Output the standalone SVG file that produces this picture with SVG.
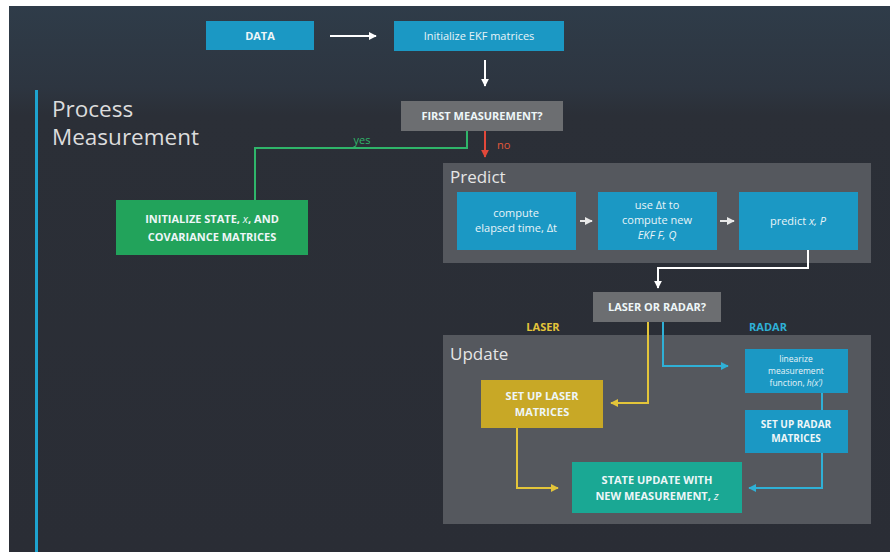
<svg xmlns="http://www.w3.org/2000/svg" width="890" height="552" viewBox="0 0 890 552">
<defs>
<linearGradient id="bg" x1="0" y1="0" x2="0" y2="1">
<stop offset="0" stop-color="#2f3c49"/>
<stop offset="0.15" stop-color="#2d3540"/>
<stop offset="0.2" stop-color="#2b2f37"/>
<stop offset="1" stop-color="#2a2d35"/>
</linearGradient>
<marker id="aw" viewBox="0 0 10 10" refX="9" refY="5" markerWidth="4" markerHeight="4" orient="auto"><path d="M0,0 L10,5 L0,10 z" fill="#ffffff"/></marker>
<marker id="ar" viewBox="0 0 10 10" refX="9" refY="5" markerWidth="4" markerHeight="4" orient="auto"><path d="M0,0 L10,5 L0,10 z" fill="#e2483a"/></marker>
<marker id="ay" viewBox="0 0 10 10" refX="9" refY="5" markerWidth="4" markerHeight="4" orient="auto"><path d="M0,0 L10,5 L0,10 z" fill="#e3c53a"/></marker>
<marker id="ab" viewBox="0 0 10 10" refX="9" refY="5" markerWidth="4" markerHeight="4" orient="auto"><path d="M0,0 L10,5 L0,10 z" fill="#2fb0d6"/></marker>
<marker id="ag" viewBox="0 0 10 10" refX="9" refY="5" markerWidth="4" markerHeight="4" orient="auto"><path d="M0,0 L10,5 L0,10 z" fill="#e8e8e8"/></marker>
</defs>
<style>
text{font-family:"Open Sans","Noto Sans","Liberation Sans",sans-serif;}
.box{fill:#1b98c4;}
.lbl{fill:#e8f4f8;font-size:11px;text-anchor:middle;}
.sm{font-size:8.5px;}
.cap{fill:#eef6f8;font-size:11px;font-weight:bold;text-anchor:middle;}
.cap10{font-size:10px;}
.panel{fill:#55585e;}
.ptitle{fill:#e6e6e6;font-size:17px;}
.grey{fill:#6c6e71;}
.ln{fill:none;stroke-width:2;}
</style>
<rect x="0" y="0" width="890" height="552" fill="#ffffff"/>
<rect x="9" y="6" width="881" height="546" fill="url(#bg)"/>
<rect x="35" y="90" width="3" height="462" fill="#1ea3cf"/>
<text x="52" y="117" fill="#dcdcdc" font-size="22.5">Process</text>
<text x="52" y="145" fill="#dcdcdc" font-size="22.5">Measurement</text>

<g id="predict-panel"><rect class="panel" x="443" y="163" width="428" height="100"/><text class="ptitle" x="450" y="183">Predict</text></g>
<g id="update-panel"><rect class="panel" x="443" y="335" width="428" height="189"/><text class="ptitle" x="450" y="360">Update</text></g>

<g id="connectors">
<line class="ln" x1="330" y1="36" x2="376" y2="36" stroke="#ffffff" marker-end="url(#aw)"/>
<line class="ln" x1="485" y1="60" x2="485" y2="86" stroke="#ffffff" marker-end="url(#aw)"/>
<polyline class="ln" points="467,131 467,148 255,148 255,200" stroke="#2fb56a"/>
<line class="ln" x1="485" y1="131" x2="485" y2="157" stroke="#e2483a" marker-end="url(#ar)"/>
<line class="ln" x1="580" y1="221" x2="592" y2="221" stroke="#e8e8e8" marker-end="url(#ag)"/>
<line class="ln" x1="720" y1="221" x2="734" y2="221" stroke="#e8e8e8" marker-end="url(#ag)"/>
<polyline class="ln" points="808,250 808,268 658,268 658,288" stroke="#ffffff" marker-end="url(#aw)"/>
<polyline class="ln" points="648,322 648,403 611,403" stroke="#e3c53a" marker-end="url(#ay)"/>
<polyline class="ln" points="663,322 663,366 728,366" stroke="#2fb0d6" marker-end="url(#ab)"/>
<line class="ln" x1="822" y1="393" x2="822" y2="410" stroke="#2fb0d6"/>
<polyline class="ln" points="822,453 822,488 749,488" stroke="#2fb0d6" marker-end="url(#ab)"/>
<polyline class="ln" points="517,428 517,488 558,488" stroke="#e3c53a" marker-end="url(#ay)"/>
<text x="362" y="144" fill="#2fb56a" font-size="11" text-anchor="middle">yes</text>
<text x="497" y="149" fill="#e2583a" font-size="11">no</text>
<text x="543" y="331" fill="#e3c53a" font-size="11" font-weight="bold" text-anchor="middle">LASER</text>
<text x="768" y="331" fill="#2fb0d6" font-size="11" font-weight="bold" text-anchor="middle">RADAR</text>
</g>

<g id="data"><rect class="box" x="206" y="21" width="108" height="29"/><text class="cap" x="260" y="40">DATA</text></g>
<g id="init-ekf"><rect class="box" x="394" y="21" width="170" height="30"/><text class="lbl" x="479" y="40">Initialize EKF matrices</text></g>
<g id="first-meas"><rect class="grey" x="401" y="101" width="162" height="30"/><text class="cap" x="482" y="120">FIRST MEASUREMENT?</text></g>
<g id="init-state"><rect x="116" y="200" width="192" height="55" fill="#22a35b"/><text class="cap" x="212" y="223">INITIALIZE STATE, <tspan font-style="italic" font-weight="normal">x</tspan>, AND</text><text class="cap" x="212" y="241">COVARIANCE MATRICES</text></g>
<g id="elapsed"><rect class="box" x="457" y="192" width="119" height="58"/><text class="lbl" x="516" y="217">compute</text><text class="lbl" x="516" y="232">elapsed time, Δt</text></g>
<g id="compute-fq"><rect class="box" x="598" y="192" width="119" height="58"/><text class="lbl" x="657" y="209">use Δt to</text><text class="lbl" x="657" y="224">compute new</text><text class="lbl" x="657" y="239" font-style="italic">EKF F, Q</text></g>
<g id="predict-xp"><rect class="box" x="739" y="192" width="119" height="58"/><text class="lbl" x="798" y="225">predict <tspan font-style="italic">x, P</tspan></text></g>
<g id="laser-radar"><rect class="grey" x="593" y="292" width="128" height="30"/><text class="cap" x="657" y="311">LASER OR RADAR?</text></g>
<g id="linearize"><rect class="box" x="745" y="349" width="103" height="44"/><text class="lbl sm" x="796" y="362">linearize</text><text class="lbl sm" x="796" y="374">measurement</text><text class="lbl sm" x="796" y="386">function, <tspan font-style="italic">h(x')</tspan></text></g>
<g id="laser-mat"><rect x="481" y="380" width="122" height="48" fill="#c8a826"/><text class="cap" x="542" y="400">SET UP LASER</text><text class="cap" x="542" y="416">MATRICES</text></g>
<g id="radar-mat"><rect class="box" x="745" y="410" width="103" height="43"/><text class="cap cap10" x="796" y="428">SET UP RADAR</text><text class="cap cap10" x="796" y="442">MATRICES</text></g>
<g id="state-update"><rect x="572" y="462" width="170" height="51" fill="#1aa894"/><text class="cap" x="657" y="484">STATE UPDATE WITH</text><text class="cap" x="657" y="500">NEW MEASUREMENT, <tspan font-style="italic" font-weight="normal">z</tspan></text></g>
</svg>
